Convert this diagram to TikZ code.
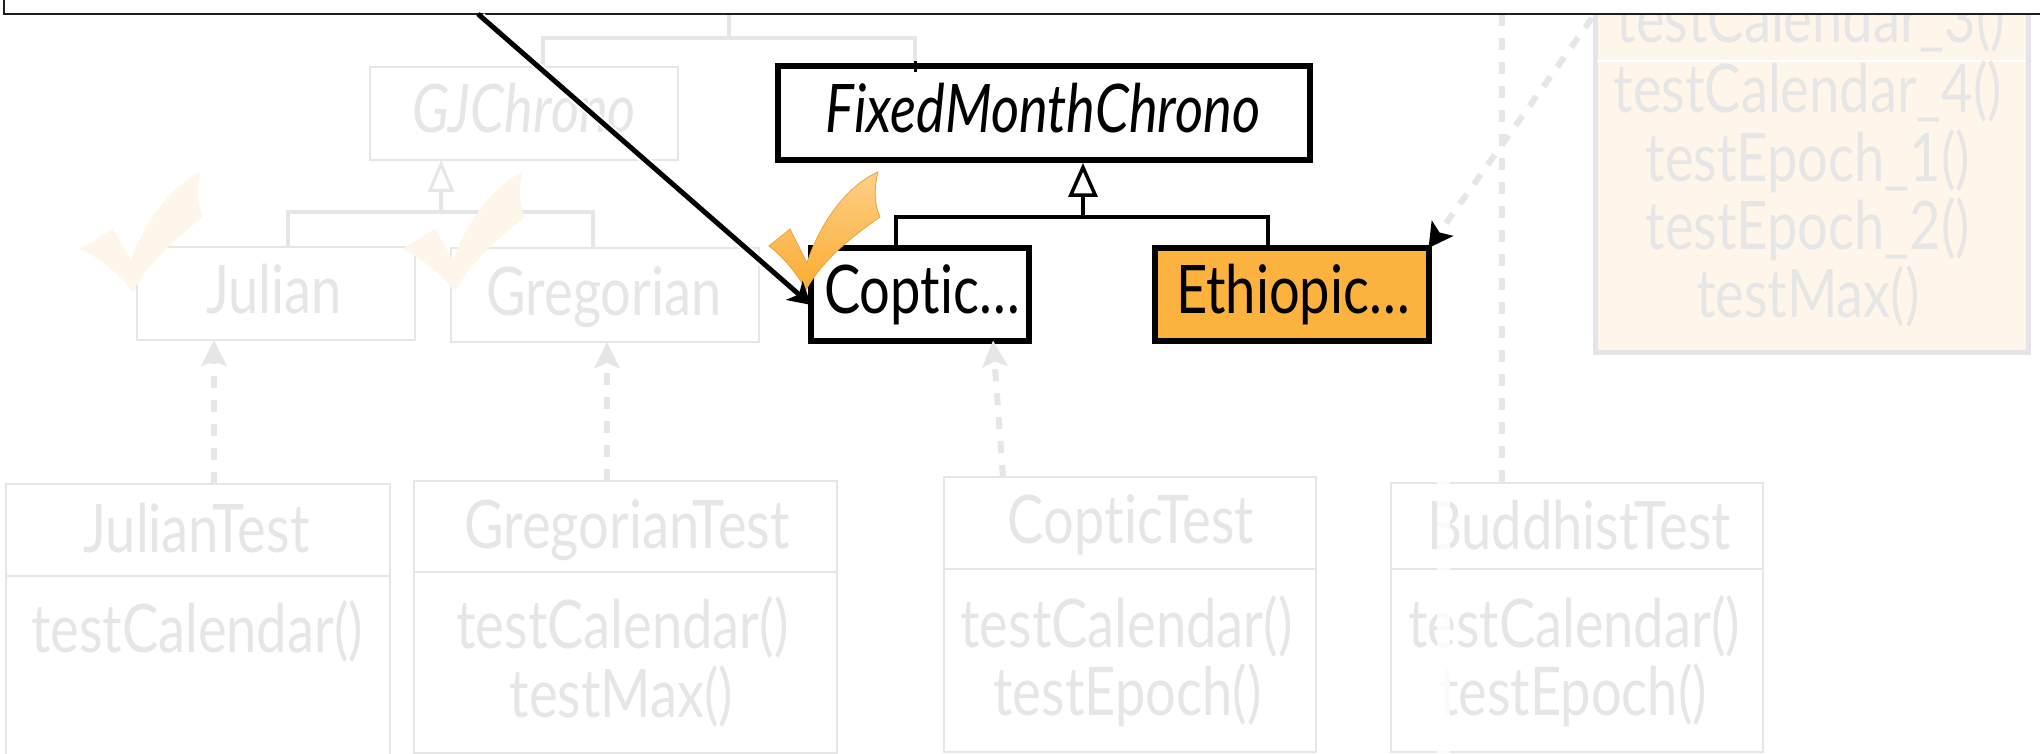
\documentclass[tikz,border=0pt]{standalone}
\usepackage{fontspec}
\setmainfont{Lato}[FakeStretch=0.81, Ligatures={NoCommon}]
\usetikzlibrary{arrows.meta,calc}

\definecolor{ghost}{RGB}{230,230,230}
\definecolor{ghostframe}{RGB}{229,229,233}
\definecolor{cream}{RGB}{254,246,234}
\definecolor{amber}{RGB}{252,178,63}
\definecolor{amberlite}{RGB}{253,208,136}
\definecolor{amberdeep}{RGB}{251,172,50}
\definecolor{amberedge}{RGB}{240,162,58}
\definecolor{frameink}{RGB}{30,30,30}

\tikzset{
  every node/.style={inner sep=0pt, outer sep=0pt},
  txt/.style={font=\fontsize{33.5}{40}\selectfont, anchor=base},
  ghosttxt/.style={txt, text=ghost},
  inktxt/.style={txt, text=black},
  ghostbox/.style={draw=ghost, line width=1.15pt, rectangle},
  inkbox/.style={draw=black, line width=3pt, rectangle},
  ghostgen/.style={draw=ghost, line width=2pt},
  inkgen/.style={draw=black, line width=1.75pt},
  ghosthollow/.style={-{Triangle[open, length=16pt, width=13pt, line width=1.5pt]}},
  inkhollow/.style={-{Triangle[open, length=17pt, width=14.5pt, line width=1.75pt]}},
  dep/.style={draw=ghost, line width=3pt, dash pattern=on 6pt off 6pt},
  deptip/.style={-{Stealth[length=13pt, width=12.5pt, inset=2.5pt]}},
  fadedtick/.pic={
    \fill[cream] (-53,-43) -- (-20,-63) -- (-2,-32)
      .. controls (10,-65) and (35,-105) .. (68,-120)
      .. controls (63,-105) and (64,-88) .. (70,-75)
      .. controls (45,-55) and (15,-30) .. (0,0)
      .. controls (-15,-20) and (-35,-35) .. cycle;
  },
  ambertick/.pic={
    \shadedraw[top color=amberlite, bottom color=amberdeep, draw=amberedge, line width=0.4pt]
      (-37,-44) -- (-16,-61) -- (1,-27)
      .. controls (12,-62) and (38,-103) .. (72,-118)
      .. controls (68,-102) and (68,-86) .. (74,-73)
      .. controls (48,-55) and (16,-30) .. (0,0)
      .. controls (-10,-18) and (-24,-34) .. cycle;
  },
}

\begin{document}
\begin{tikzpicture}[x=0.5pt, y=-0.5pt]
\useasboundingbox (0,0) rectangle (2040,754);
\fill[white] (0,0) rectangle (2040,754);

% list of test methods on the right
\node[draw=ghostframe, fill=cream, line width=2.5pt, minimum width=216.5pt, minimum height=206.25pt] (rb) at (1811.5,146.25) {};
\draw[white, line width=0.8pt] (1597,61) -- (2026,61);
\node[ghosttxt] (m3) at (1811,43) {testCalendar\_3()};
\node[ghosttxt] (m4) at (1808,113) {testCalendar\_4()};
\node[ghosttxt] (m5) at (1808,182) {testEpoch\_1()};
\node[ghosttxt] (m6) at (1808,250) {testEpoch\_2()};
\node[ghosttxt] (m7) at (1808,317) {testMax()};

% faded classes
\node[ghostbox, minimum width=154pt, minimum height=46.5pt] (gj) at (524,113.5) {};
\node[ghosttxt, font=\fontsize{33.5}{40}\selectfont\itshape] (gjt) at (524,133) {GJChrono};
\node[ghostbox, minimum width=139pt, minimum height=46.5pt] (jul) at (276,293.5) {};
\node[ghosttxt] (jult) at (274,314) {Julian};
\node[ghostbox, minimum width=154pt, minimum height=47pt] (gre) at (605,295) {};
\node[ghosttxt] (gret) at (604,315) {Gregorian};

% test classes
\node[ghostbox, minimum width=192pt, minimum height=46pt] (jth) at (198,530) {};
\node[ghostbox, minimum width=192pt, minimum height=112pt] (jtb) at (198,688) {};
\node[ghosttxt] (jtn) at (196.5,552) {JulianTest};
\node[ghosttxt] (jt1) at (197,652) {testCalendar()};

\node[ghostbox, minimum width=211.5pt, minimum height=45.5pt] (gth) at (625.5,526.5) {};
\node[ghostbox, minimum width=211.5pt, minimum height=90.5pt] (gtb) at (625.5,662.5) {};
\node[ghosttxt] (gtn) at (627,548) {GregorianTest};
\node[ghosttxt] (gt1) at (622.5,648) {testCalendar()};
\node[ghosttxt] (gt2) at (621.5,717) {testMax()};

\node[ghostbox, minimum width=186pt, minimum height=46pt] (cth) at (1130,523) {};
\node[ghostbox, minimum width=186pt, minimum height=91.5pt] (ctb) at (1130,660.5) {};
\node[ghosttxt] (ctn) at (1131,543) {CopticTest};
\node[ghosttxt] (ct1) at (1126.5,647) {testCalendar()};
\node[ghosttxt] (ct2) at (1127.5,715) {testEpoch()};

\node[ghostbox, minimum width=186pt, minimum height=43pt] (bth) at (1577,526) {};
\node[ghostbox, minimum width=186pt, minimum height=91.5pt] (btb) at (1577,660.5) {};
\node[ghosttxt] (btn) at (1579,549) {BuddhistTest};
\node[ghosttxt] (bt1) at (1574,647) {testCalendar()};
\node[ghosttxt] (bt2) at (1573,715) {testEpoch()};
\draw[white, opacity=0.8, line width=6.5pt] (1443,482) -- (1443,760);

% highlighted classes
\node[inkbox, fill=white, minimum width=266pt, minimum height=46.75pt] (fmc) at (1043.5,113.25) {};
\node[inktxt, font=\fontsize{33.5}{40}\selectfont\itshape] (fmct) at (1043,133) {FixedMonthChrono};
\node[inkbox, fill=white, minimum width=109pt, minimum height=46.25pt] (cop) at (920,294.25) {};
\node[inktxt] (copt) at (922,314) {Coptic…};
\node[inkbox, fill=amber, minimum width=136.75pt, minimum height=46.25pt] (eth) at (1291.75,294.25) {};
\node[inktxt] (etht) at (1293,314) {Ethiopic…};

% faded generalisations
\draw[ghostgen] ([xshift=6pt]jul.north) -- ++(0,-35) -| ([xshift=-6pt]gre.north);
\draw[ghostgen, ghosthollow] ([xshift=-41.5pt, yshift=-26pt]gj.south) -- ([xshift=-41.5pt]gj.south);
\draw[ghostgen] ([xshift=9.5pt]gj.north) -- ++(0,-29) -| ([xshift=-64.25pt, yshift=1.5pt]fmc.north);
\coordinate (fork) at (729,38);
\draw[ghostgen, ghosthollow] (fork) -- ++(0,-58);

% dependencies of the tests
\draw[dep, deptip] ([xshift=8pt]jth.north) -- ([xshift=8pt]jth.north |- jul.south);
\draw[dep, deptip] ([xshift=-9.25pt]gth.north) -- ([xshift=-9.25pt]gth.north |- gre.south);
\draw[dep, deptip] ([xshift=29.5pt]cth.north west) -- ([xshift=36.5pt]cop.south);
\coordinate (bup) at (1502,14);
\draw[dep] (bup) -- (bup |- bth.north);

% highlighted generalisations
\draw[black, line width=1.5pt] ([xshift=-64.25pt, yshift=2.5pt]fmc.north) -- ++(0,11);
\draw[inkgen] ([xshift=-12pt]cop.north) -- ++(0,-31) -| ([xshift=-12pt]eth.north);
\draw[inkgen, inkhollow] ([xshift=19.75pt, yshift=-28.5pt]fmc.south) -- ([xshift=19.75pt, yshift=-1.5pt]fmc.south);

\coordinate (ethsrc) at (1592,18);
\draw[dep, -{Stealth[color=black, length=12pt, width=13pt, inset=2.5pt]}] (ethsrc) -- (eth.north east);

% ticks
\pic at (133,292) {fadedtick};
\pic at (455,292) {fadedtick};
\pic at (806,290) {ambertick};

% enclosing frame along the top
\node[draw=frameink, fill=white, line width=1.35pt, minimum width=1048pt, minimum height=27pt] (ctx) at (1052,-13) {};

% navigation arrow into Coptic
\coordinate (ctxsrc) at (478,14);
\draw[white, line width=4.5pt, shorten <=2pt, shorten >=14pt] (ctxsrc) -- ([yshift=-5.35pt]cop.west);
\draw[black, line width=2.5pt, -{Stealth[length=11pt, width=12.5pt, inset=3pt]}] (ctxsrc) -- ([yshift=-5.35pt]cop.west);
\end{tikzpicture}
\end{document}
